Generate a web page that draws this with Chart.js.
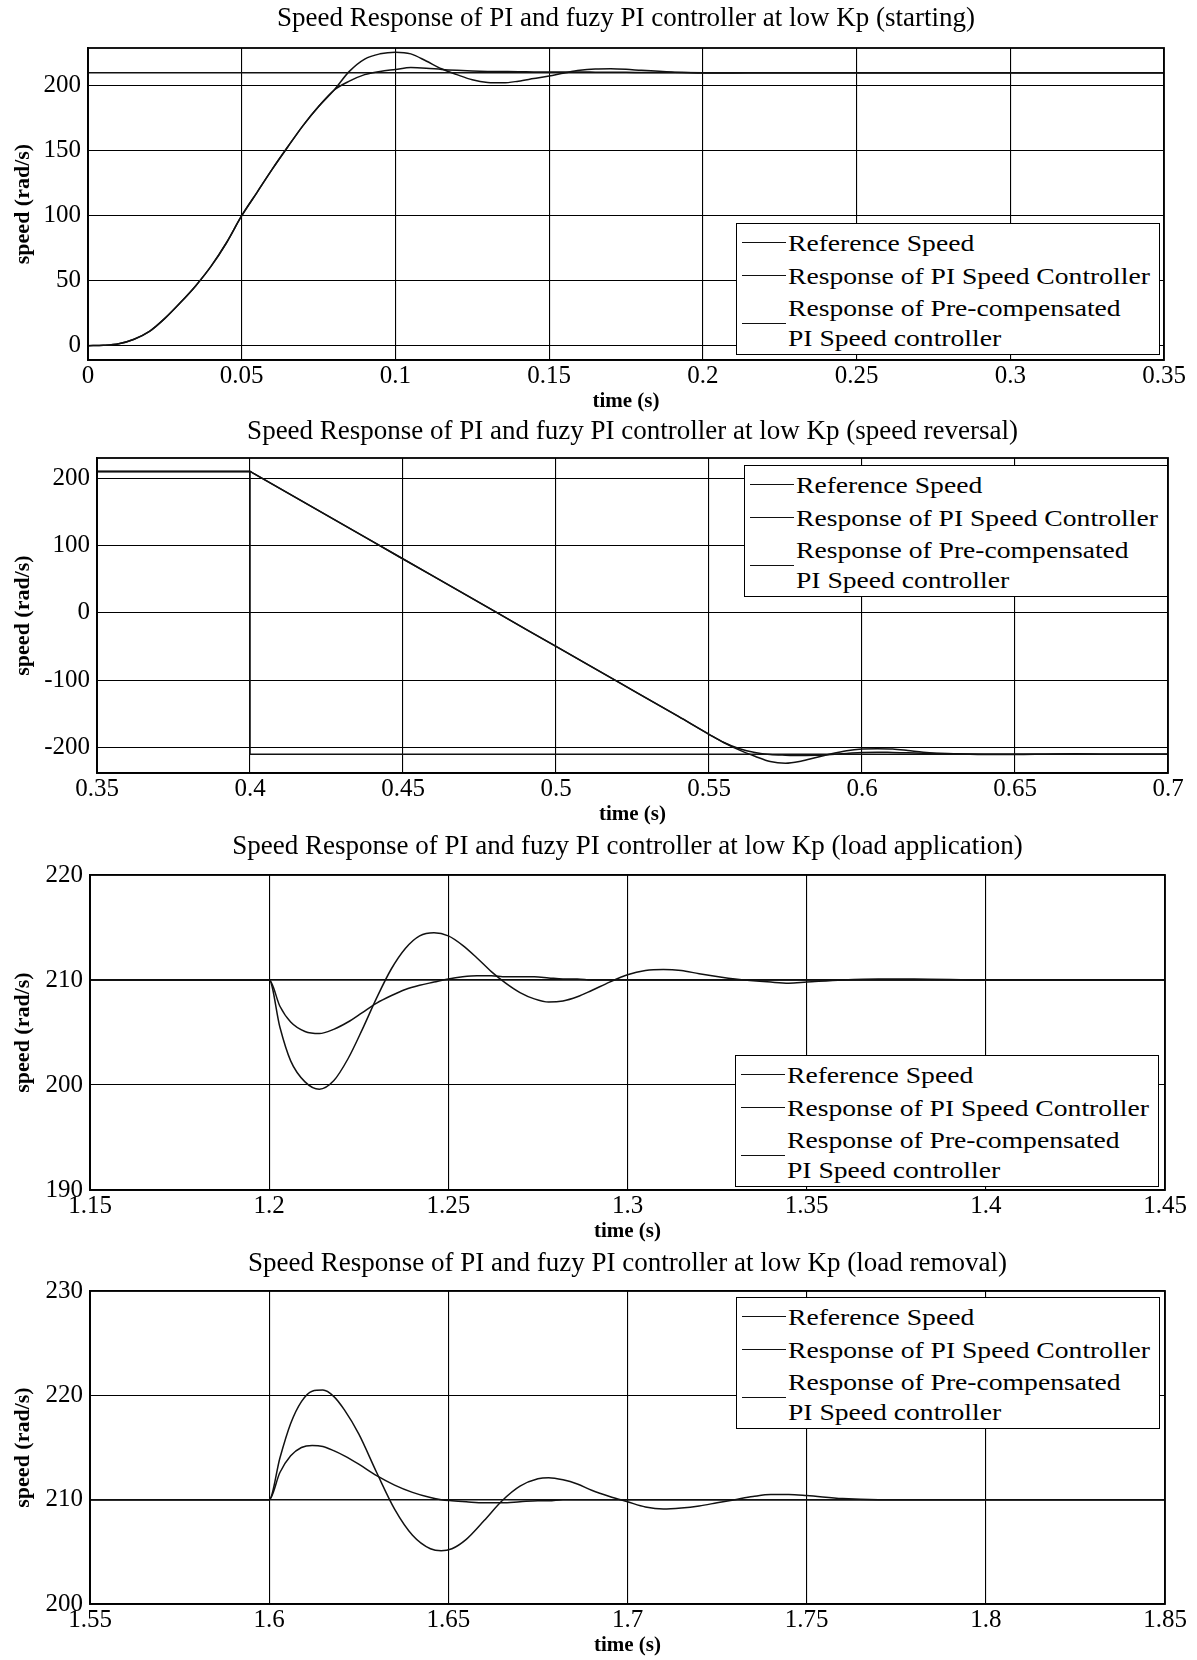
<!DOCTYPE html>
<html lang="en">
<head>
  <meta charset="UTF-8" />
  <title>Speed Response of PI and fuzy PI controller at low Kp</title>
  <script src="https://cdn.jsdelivr.net/npm/chart.js@4.4.0/dist/chart.umd.min.js"></script>
  <style>
    html, body { margin: 0; padding: 0; background: #fff; overflow: hidden; }
    body { width: 1197px; height: 1660px; position: relative;
           font-family: "Liberation Serif", "Times New Roman", serif; }
    .panel { position: absolute; left: 0; width: 1197px; }
    /* legend box drawn as html so the text stays text */
    .legend { position: absolute; box-sizing: border-box; border: 1.5px solid #000;
              background: #fff; padding-top: 2px; }
    .item { display: flex; align-items: center; height: 33px; }
    .item.two { height: 62px; }
    .sample { width: 44px; border-top: 1.5px solid #111; margin-left: 5px; margin-right: 2px; flex: none; }
    .label { font-size: 24px; line-height: 30px; color: #000; white-space: nowrap;
             transform: scaleX(1.15); transform-origin: left center; }
  </style>
</head>
<body>

  <div class="panel" style="top:0px;height:418px"><canvas id="cStart"></canvas></div>
  <div class="panel" style="top:410px;height:421px"><canvas id="cRev"></canvas></div>
  <div class="panel" style="top:827px;height:421px"><canvas id="cLoad"></canvas></div>
  <div class="panel" style="top:1243px;height:419px"><canvas id="cRem"></canvas></div>

  <script>
    /* ---------- series names ---------- */
    var seriesNames = ["Reference Speed", "Response of PI Speed Controller",
                       "Response of Pre-compensated PI Speed controller"];

    /* ---------- 1: starting ---------- */
    var startTime = [0, 0.005, 0.01, 0.015, 0.02, 0.025, 0.03, 0.035, 0.04, 0.045, 0.05, 0.055,
                     0.06, 0.065, 0.07, 0.075, 0.08, 0.085, 0.09, 0.095, 0.1, 0.105, 0.11, 0.115,
                     0.12, 0.125, 0.13, 0.135, 0.14, 0.145, 0.15, 0.155, 0.16, 0.165, 0.17, 0.175,
                     0.18, 0.19, 0.2, 0.21, 0.22, 0.25, 0.3, 0.35];
    var startPI   = [0, 0.3, 1.5, 5, 11, 21, 33, 46, 61, 79, 100, 118,
                     136, 153, 169.5, 184, 196.5, 211, 220.5, 224.5, 225.8, 224.5, 219, 213,
                     208.5, 204.5, 202.5, 202.2, 203.5, 205.5, 207.5, 209.8, 211.8, 212.8, 213, 212.6,
                     211.8, 210.5, 209.8, 209.8, 210, 210, 210, 210];
    var startPre  = [0, 0.3, 1.5, 5, 11, 21, 33, 46, 61, 79, 100, 118,
                     136, 153, 169.5, 184, 196.5, 203.5, 208.5, 211, 212.5, 214, 213.5, 212.5,
                     211.8, 211.3, 211, 210.9, 210.8, 210.6, 210.5, 210.5, 210.5, 210.4, 210.3, 210.3,
                     210.2, 210.1, 210, 210, 210, 210, 210, 210];
    var startRefTime = [0, 0.35];
    var startRef     = [210, 210];
    var startXTicks  = [0, 0.05, 0.1, 0.15, 0.2, 0.25, 0.3, 0.35];
    var startYTicks  = [0, 50, 100, 150, 200];

    /* ---------- 2: speed reversal ---------- */
    var revTime = [0.35, 0.4, 0.401, 0.42, 0.44, 0.46, 0.48, 0.5, 0.52, 0.54, 0.55, 0.555, 0.56, 0.565,
                   0.57, 0.575, 0.58, 0.585, 0.59, 0.595, 0.6, 0.605, 0.61, 0.615, 0.62, 0.63,
                   0.64, 0.65, 0.66, 0.67, 0.68, 0.7];
    var revPI   = [210, 210, 207.4, 158, 106, 54, 2, -50, -102, -154, -180.5, -193, -204, -213,
                   -221, -223.5, -220.5, -215, -209.5, -205, -202.5, -201.8, -202.3, -204.5, -207, -209.5,
                   -210.5, -210.5, -210, -209.5, -210, -210];
    var revPre  = [210, 210, 207.4, 158, 106, 54, 2, -50, -102, -154, -180.5, -193, -202, -207.5,
                   -210.5, -211.5, -212, -211.8, -210.5, -209, -207.5, -207, -207.5, -208, -208.5, -209.5,
                   -210, -210, -210, -210, -210, -210];
    var revRefTime = [0.35, 0.4, 0.4, 0.7];
    var revRef     = [210, 210, -210, -210];
    var revXTicks  = [0.35, 0.4, 0.45, 0.5, 0.55, 0.6, 0.65, 0.7];
    var revYTicks  = [-200, -100, 0, 100, 200];

    /* ---------- 3: load application ---------- */
    var loadTime = [1.15, 1.2, 1.203, 1.206, 1.21, 1.214, 1.218, 1.222, 1.226, 1.23, 1.234, 1.238,
                    1.242, 1.246, 1.25, 1.254, 1.258, 1.262, 1.266, 1.27, 1.274, 1.278, 1.282, 1.286,
                    1.29, 1.295, 1.3, 1.305, 1.31, 1.315, 1.32, 1.33, 1.34, 1.345, 1.35, 1.36,
                    1.37, 1.38, 1.4, 1.45];
    var loadPI   = [210, 210, 205.5, 202.3, 200.3, 199.6, 200.4, 202.5, 205.3, 208.3, 211, 213,
                    214.2, 214.5, 214.2, 213.3, 212.1, 210.8, 209.7, 208.8, 208.2, 207.9, 208, 208.4,
                    209, 209.8, 210.5, 210.9, 211, 210.9, 210.6, 210.1, 209.8, 209.7, 209.8, 210,
                    210.1, 210.1, 210, 210];
    var loadPre  = [210, 210, 207.5, 206, 205.1, 204.9, 205.3, 206, 206.9, 207.8, 208.5, 209.1,
                    209.5, 209.8, 210.1, 210.3, 210.4, 210.4, 210.3, 210.3, 210.3, 210.2, 210.1, 210.1,
                    210, 210, 210, 210, 210, 210, 210, 210, 210, 210, 210, 210,
                    210, 210, 210, 210];
    var loadRefTime = [1.15, 1.45];
    var loadRef     = [210, 210];
    var loadXTicks  = [1.15, 1.2, 1.25, 1.3, 1.35, 1.4, 1.45];
    var loadYTicks  = [190, 200, 210, 220];

    /* ---------- 4: load removal ---------- */
    var remTime = [1.55, 1.6, 1.603, 1.606, 1.609, 1.612, 1.615, 1.618, 1.621, 1.625, 1.63, 1.635,
                   1.64, 1.645, 1.648, 1.651, 1.655, 1.66, 1.665, 1.67, 1.675, 1.678, 1.682, 1.686,
                   1.69, 1.695, 1.7, 1.705, 1.71, 1.715, 1.72, 1.725, 1.73, 1.735, 1.74, 1.745,
                   1.75, 1.76, 1.77, 1.85];
    var remPI   = [210, 210, 214, 217.3, 219.4, 220.4, 220.5, 219.9, 218.6, 216.3, 212.6, 209.1,
                   206.6, 205.3, 205.1, 205.3, 206.2, 208, 209.9, 211.3, 212, 212.1, 211.9, 211.5,
                   210.9, 210.3, 209.8, 209.3, 209.1, 209.2, 209.4, 209.7, 210, 210.3, 210.5, 210.5,
                   210.4, 210.1, 210, 210];
    var remPre  = [210, 210, 212.6, 214.2, 215, 215.2, 215.1, 214.7, 214.2, 213.4, 212.3, 211.4,
                   210.7, 210.2, 210, 209.9, 209.8, 209.7, 209.7, 209.8, 209.9, 209.9, 210, 210,
                   210, 210, 210, 210, 210, 210, 210, 210, 210, 210, 210, 210,
                   210, 210, 210, 210];
    var remRefTime = [1.55, 1.85];
    var remRef     = [210, 210];
    var remXTicks  = [1.55, 1.6, 1.65, 1.7, 1.75, 1.8, 1.85];
    var remYTicks  = [200, 210, 220, 230];

    /* ---------- helpers ---------- */
    var FONT = "'Liberation Serif', 'Times New Roman', serif";
    var INK = "#111";

    function puntos(t, v) {
      return t.map(function (x, i) { return { x: x, y: v[i] }; });
    }

    // box round the plot area, like the matlab axes
    var marco = {
      id: "marco",
      afterDraw: function (chart) {
        var a = chart.chartArea, ctx = chart.ctx;
        ctx.save();
        ctx.strokeStyle = "#000";
        ctx.lineWidth = 1.8;
        ctx.strokeRect(a.left, a.top, a.right - a.left, a.bottom - a.top);
        ctx.restore();
      }
    };

    function dibujar(id, c) {
      new Chart(document.getElementById(id), {
        type: "line",
        data: {
          datasets: [
            { label: seriesNames[0], data: puntos(c.refT, c.ref), tension: 0 },
            { label: seriesNames[1], data: puntos(c.t, c.pi), cubicInterpolationMode: "monotone" },
            { label: seriesNames[2], data: puntos(c.t, c.pre), cubicInterpolationMode: "monotone" }
          ]
        },
        options: {
          responsive: true,
          maintainAspectRatio: false,
          animation: false,
          layout: { padding: { left: 0, right: c.padRight, top: 0, bottom: 0 } },
          elements: {
            point: { radius: 0 },
            line: { borderColor: INK, borderWidth: 1.5, fill: false }
          },
          plugins: {
            legend: { display: false },
            tooltip: { enabled: false },
            title: {
              display: true, text: c.title, fullSize: false, color: "#000",
              font: { family: FONT, size: 27, weight: "normal", lineHeight: 1.2 },
              padding: { top: c.titleTop - 0.6, bottom: 48 - 32.4 - c.titleTop + 0.6 }
            }
          },
          scales: {
            x: {
              type: "linear", min: c.xTicks[0], max: c.xTicks[c.xTicks.length - 1],
              afterBuildTicks: function (s) { s.ticks = c.xTicks.map(function (v) { return { value: v }; }); },
              afterFit: function (s) { s.height = 58; },
              grid: { color: "#000", lineWidth: 1.1, drawTicks: false },
              border: { color: "#000", width: 1.8 },
              ticks: {
                color: "#000", padding: 3.5, maxRotation: 0, autoSkip: false,
                font: { family: FONT, size: 25, lineHeight: 1 },
                callback: function (v) { return String(v); }
              },
              title: {
                display: true, text: "time (s)", color: "#000",
                font: { family: FONT, size: 21, weight: "bold" },
                padding: { top: 0, bottom: 3.4 }
              }
            },
            y: {
              min: c.yMin, max: c.yMax,
              afterBuildTicks: function (s) { s.ticks = c.yTicks.map(function (v) { return { value: v }; }); },
              afterFit: function (s) { s.width = c.axisLeft; },
              grid: { color: "#000", lineWidth: 1.1, drawTicks: false },
              border: { color: "#000", width: 1.8 },
              ticks: {
                color: "#000", padding: 7, autoSkip: false,
                font: { family: FONT, size: 25, lineHeight: 1 },
                callback: function (v) { return String(v); }
              },
              title: {
                display: true, text: "speed (rad/s)", color: "#000",
                font: { family: FONT, size: 22, weight: "bold" },
                padding: { top: 10, bottom: 0 }
              }
            }
          }
        },
        plugins: [marco]
      });
    }

    function leyenda(left, top) {
      var box = document.createElement("div");
      box.className = "legend";
      box.style.left = left + "px";
      box.style.top = top + "px";
      box.style.width = "424px";
      box.style.height = "132px";
      box.innerHTML =
        '<div class="item"><span class="sample"></span><span class="label">' + seriesNames[0] + '</span></div>' +
        '<div class="item"><span class="sample"></span><span class="label">' + seriesNames[1] + '</span></div>' +
        '<div class="item two"><span class="sample"></span><span class="label">Response of Pre-compensated<br>PI Speed controller</span></div>';
      document.body.appendChild(box);
    }

    dibujar("cStart", {
      title: "Speed Response of PI and fuzy PI controller at low Kp (starting)", titleTop: 3.4,
      t: startTime, pi: startPI, pre: startPre, refT: startRefTime, ref: startRef,
      xTicks: startXTicks, yTicks: startYTicks, yMin: -11, yMax: 229, axisLeft: 88, padRight: 33
    });
    dibujar("cRev", {
      title: "Speed Response of PI and fuzy PI controller at low Kp (speed reversal)", titleTop: 6.4,
      t: revTime, pi: revPI, pre: revPre, refT: revRefTime, ref: revRef,
      xTicks: revXTicks, yTicks: revYTicks, yMin: -238, yMax: 230, axisLeft: 97, padRight: 29
    });
    dibujar("cLoad", {
      title: "Speed Response of PI and fuzy PI controller at low Kp (load application)", titleTop: 4.4,
      t: loadTime, pi: loadPI, pre: loadPre, refT: loadRefTime, ref: loadRef,
      xTicks: loadXTicks, yTicks: loadYTicks, yMin: 190, yMax: 220, axisLeft: 90, padRight: 32
    });
    dibujar("cRem", {
      title: "Speed Response of PI and fuzy PI controller at low Kp (load removal)", titleTop: 5.4,
      t: remTime, pi: remPI, pre: remPre, refT: remRefTime, ref: remRef,
      xTicks: remXTicks, yTicks: remYTicks, yMin: 200, yMax: 230, axisLeft: 90, padRight: 32
    });

    leyenda(736, 223);
    leyenda(744, 465);
    leyenda(735, 1055);
    leyenda(736, 1297);
  </script>
</body>
</html>
